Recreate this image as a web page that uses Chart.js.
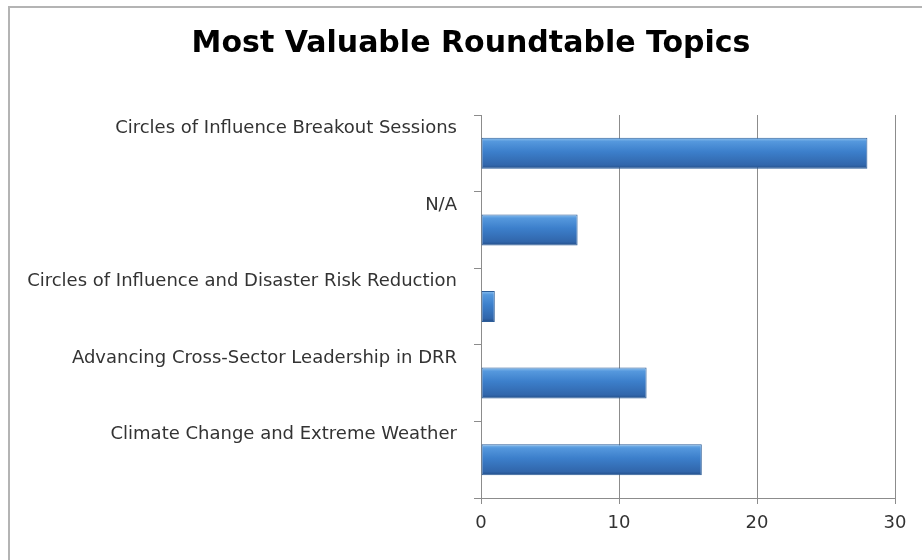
<!DOCTYPE html>
<html>
<head>
<meta charset="utf-8">
<script src="https://cdn.jsdelivr.net/npm/chart.js@4.4.1/dist/chart.umd.min.js"></script>
<style>
  html, body { margin: 0; padding: 0; background: #fff; }
  #wrap { position: relative; width: 922px; height: 560px; }
  #frame {
    position: absolute; left: 8px; top: 6px; right: 0; bottom: 0;
    border-left: 2px solid #b4b4b4; border-top: 2px solid #b4b4b4;
    pointer-events: none;
  }
</style>
</head>
<body>
<div id="wrap">
  <canvas id="topicsChart" width="922" height="560"></canvas>
  <div id="frame"></div>
</div>
<script>
// chart data
const chartTitle = 'Most Valuable Roundtable Topics';
const topics = [
  'Circles of Influence Breakout Sessions',
  'N/A',
  'Circles of Influence and Disaster Risk Reduction',
  'Advancing Cross-Sector Leadership in DRR',
  'Climate Change and Extreme Weather'
];
const votes = [28, 7, 1, 12, 16];
const xTicks = [0, 10, 20, 30];

const labelFont = { family: '"DejaVu Sans", sans-serif', size: 18 };

// bevelled blue fill, built per bar from the category scale
function barFill(context) {
  const chart = context.chart;
  if (!chart.chartArea || context.dataIndex === undefined) return '#3f80c9';
  const y = chart.scales.y;
  const mid = y.getPixelForValue(context.dataIndex);
  const half = y.getPixelForValue(1) - y.getPixelForValue(0);
  const h = Math.abs(half) * 0.405 / 2;
  const g = chart.ctx.createLinearGradient(0, mid - h, 0, mid + h);
  g.addColorStop(0, '#8cc0ee');
  g.addColorStop(0.12, '#5598dd');
  g.addColorStop(0.45, '#3c7fcb');
  g.addColorStop(0.88, '#3166ab');
  g.addColorStop(1, '#224e88');
  return g;
}

// the title sits a bit right of the canvas centre in the original,
// so it is drawn here instead of by the title plugin
const titlePlugin = {
  id: 'offsetTitle',
  afterDraw(chart) {
    const c = chart.ctx;
    c.save();
    c.font = 'bold 30px "DejaVu Sans", sans-serif';
    c.fillStyle = '#000';
    c.textAlign = 'center';
    c.textBaseline = 'middle';
    c.fillText(chartTitle, 471, 44);
    c.restore();
  }
};

const ctx = document.getElementById('topicsChart').getContext('2d');

new Chart(ctx, {
  type: 'bar',
  data: {
    labels: topics,
    datasets: [{
      label: 'Votes',
      data: votes,
      backgroundColor: barFill,
      borderColor: '#2c5d98',
      borderWidth: 1,
      borderSkipped: false,
      barPercentage: 0.405,
      categoryPercentage: 1
    }]
  },
  options: {
    indexAxis: 'y',
    responsive: false,
    animation: false,
    layout: { padding: { left: 20, right: 27, top: 115, bottom: 0 } },
    plugins: {
      legend: { display: false },
      tooltip: { enabled: false },
      title: { display: false }
    },
    scales: {
      x: {
        min: 0,
        max: 30,
        afterBuildTicks: (scale) => { scale.ticks = xTicks.map(v => ({ value: v })); },
        afterFit: (scale) => { scale.height = 62; },
        grid: { color: '#8c8c8c', tickLength: 6, lineWidth: 1 },
        border: { color: '#8c8c8c' },
        ticks: { color: '#333', font: labelFont, padding: 9 }
      },
      y: {
        afterFit: (scale) => { scale.width = 461; },
        grid: { offset: true, drawOnChartArea: false, color: '#8c8c8c', tickLength: 7 },
        border: { color: '#8c8c8c' },
        ticks: { color: '#333', font: labelFont, padding: 17, labelOffset: -25 }
      }
    }
  },
  plugins: [titlePlugin]
});
</script>
</body>
</html>
